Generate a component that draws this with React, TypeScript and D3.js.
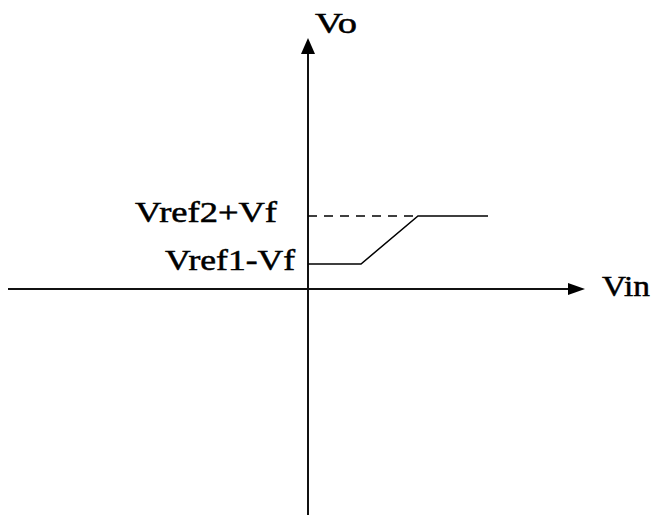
import React from "react";
import * as d3 from "d3";

// Transfer characteristic (arbitrary units)
const vinPoints = [0, 5.3, 11.0, 18.0];
const voPoints = [2.5, 2.5, 7.3, 7.3];
const refLevelHigh = 7.3;
const refLevelHighX = 11.0;
const xDomain = [-30, 27.7];
const yDomain = [-22.6, 25.1];
const levelLabels = ["Vref2+Vf", "Vref1-Vf"];
const levelValues = [7.3, 2.5];
const axisLabels = ["Vo", "Vin"];

const W = 654;
const H = 515;

export default function App() {
  const x = d3.scaleLinear().domain(xDomain).range([8, 585]);
  const y = d3.scaleLinear().domain(yDomain).range([515, 38]);
  const x0 = x(0);
  const y0 = y(0);

  const line = d3
    .line<number>()
    .x((_, i) => x(vinPoints[i]))
    .y((d) => y(d));

  const textStyle: React.CSSProperties = {
    fontFamily: "'Liberation Serif', 'Times New Roman', Times, serif",
    fontSize: "29px",
  };

  // arrow heads
  const vTip = y(yDomain[1]);
  const hTip = x(xDomain[1]);
  const vHead = `M${x0},${vTip} L${x0 - 7},${vTip + 16} L${x0 + 7},${vTip + 16} Z`;
  const hHead = `M${hTip},${y0} L${hTip - 17},${y0 - 6} L${hTip - 17},${y0 + 6} Z`;

  return (
    <svg
      width={W}
      height={H}
      style={{ position: "absolute", left: 0, top: 0, background: "#fff" }}
    >
      {/* axes */}
      <line x1={x(xDomain[0])} y1={y0} x2={hTip - 14} y2={y0} stroke="#111" strokeWidth={2} />
      <line x1={x0} y1={y(yDomain[0])} x2={x0} y2={vTip + 12} stroke="#111" strokeWidth={2} />
      <path d={vHead} fill="#000" />
      <path d={hHead} fill="#000" />

      {/* dashed reference */}
      <line
        x1={x0}
        y1={y(refLevelHigh)}
        x2={x(refLevelHighX)}
        y2={y(refLevelHigh)}
        stroke="#000"
        strokeWidth={1.5}
        strokeDasharray="9,7"
      />

      {/* characteristic */}
      <path d={line(voPoints) || ""} fill="none" stroke="#000" strokeWidth={1.5} />

      <g fill="#000" stroke="#000" strokeWidth={0.5} style={textStyle}>
        {/* level labels */}
        <text
          x={277}
          y={y(levelValues[0]) + 6}
          textAnchor="end"
          textLength={142}
          lengthAdjust="spacingAndGlyphs"
        >
          {levelLabels[0]}
        </text>
        <text
          x={295}
          y={y(levelValues[1]) + 6}
          textAnchor="end"
          textLength={130}
          lengthAdjust="spacingAndGlyphs"
        >
          {levelLabels[1]}
        </text>

        {/* axis labels */}
        <text x={315} y={33} textLength={42} lengthAdjust="spacingAndGlyphs">
          {axisLabels[0]}
        </text>
        <text x={602} y={296} textLength={48} lengthAdjust="spacingAndGlyphs">
          {axisLabels[1]}
        </text>
      </g>
    </svg>
  );
}
